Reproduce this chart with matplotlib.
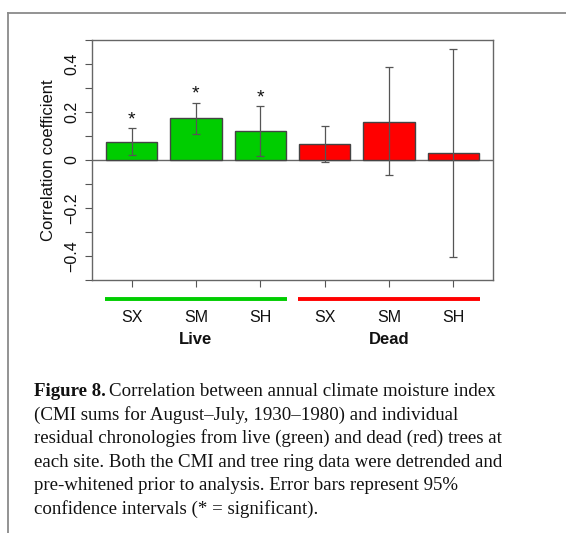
import matplotlib
matplotlib.use("Agg")
import matplotlib.pyplot as plt
from matplotlib.lines import Line2D
import matplotlib.transforms as mtransforms

sites = ["SX", "SM", "SH", "SX", "SM", "SH"]
groups = ["Live", "Dead"]
values = [0.076, 0.175, 0.119, 0.068, 0.160, 0.028]
err_low = [0.019, 0.110, 0.018, -0.007, -0.064, -0.404]
err_high = [0.133, 0.239, 0.223, 0.143, 0.388, 0.463]
significant = [True, True, True, False, False, False]
colors = ["#00CD00", "#00CD00", "#00CD00", "#FF0000", "#FF0000", "#FF0000"]
group_colors = ["#00CD00", "#FF0000"]

W, H = 566, 533
fig = plt.figure(figsize=(W / 100, H / 100), dpi=100)
plt.rcParams['font.family'] = ['Liberation Sans', 'DejaVu Sans']

# outer frame
fig.add_artist(Line2D([8 / W, 8 / W], [0, 1 - 13 / H], transform=fig.transFigure, color="#8a8a8a", lw=1.3))
fig.add_artist(Line2D([8 / W, 1], [1 - 13 / H, 1 - 13 / H], transform=fig.transFigure, color="#8a8a8a", lw=1.3))

ax = fig.add_axes([91.7 / W, 1 - 280 / H, (493.3 - 91.7) / W, 240 / H])
x = list(range(len(values)))
ax.bar(x, values, width=0.8, color=colors, edgecolor="#444444", linewidth=1.0, zorder=2)
yerr = [[v - lo for v, lo in zip(values, err_low)], [hi - v for v, hi in zip(values, err_high)]]
ax.errorbar(x, values, yerr=yerr, fmt="none", ecolor="#555555", elinewidth=0.9, capsize=3, capthick=0.9, zorder=3)
ax.axhline(0, color="#666666", lw=1.0, zorder=1.5)
for xi, hi, s in zip(x, err_high, significant):
    if s:
        ax.text(xi, hi + 0.035, "*", ha="center", va="center", fontsize=14, color="#111111")

ax.set_xlim(-0.62, 5.62)
ax.set_ylim(-0.5, 0.5)
ax.set_yticks([-0.5, -0.4, -0.3, -0.2, -0.1, 0, 0.1, 0.2, 0.3, 0.4, 0.5])
ax.set_yticklabels(["", "\u22120.4", "", "\u22120.2", "", "0", "", "0.2", "", "0.4", ""],
                   rotation=90, va="center", fontsize=11.5)
ax.set_xticks(x)
ax.set_xticklabels(sites, fontsize=11.5)
ax.tick_params(axis="x", length=5, pad=16.5, color="#555555", labelcolor="#111111")
ax.tick_params(axis="y", length=5, pad=4, color="#555555", labelcolor="#111111")
ax.set_ylabel("Correlation coefficient", fontsize=12, labelpad=6, color="#111111")
for sp in ax.spines.values():
    sp.set_color("#666666")
    sp.set_linewidth(1.0)

trans = mtransforms.blended_transform_factory(ax.transData, fig.transFigure)
for gi, (g, c) in enumerate(zip(groups, group_colors)):
    center = 1 + 3 * gi
    ax.add_line(Line2D([center - 1.42, center + 1.42], [1 - 299 / H] * 2, transform=trans,
                       color=c, lw=2.8, clip_on=False, solid_capstyle="butt"))
    ax.text(center, 1 - 339.5 / H, g, transform=trans, ha="center", va="center",
            fontsize=12, fontweight="bold", color="#111111")

# caption
serif = ['Liberation Serif', 'DejaVu Serif']
cap_fs = 13.6
lines = [
    "Correlation between annual climate moisture index",
    "(CMI sums for August\u2013July, 1930\u20131980) and individual",
    "residual chronologies from live (green) and dead (red) trees at",
    "each site. Both the CMI and tree ring data were detrended and",
    "pre-whitened prior to analysis. Error bars represent 95%",
    "confidence intervals (* = significant).",
]
x0 = 33.5 / W
base0 = 396
step = 23.6
fig.canvas.draw()
r = fig.canvas.get_renderer()
t = fig.text(x0, 1 - base0 / H, "Figure 8.", family=serif, fontweight="bold", fontsize=cap_fs,
             va="baseline", ha="left", color="#111111")
bb = t.get_window_extent(renderer=r)
fig.text((bb.x1 + 4) / W, 1 - base0 / H, lines[0], family=serif, fontsize=cap_fs,
         va="baseline", ha="left", color="#111111")
for i, ln in enumerate(lines[1:], start=1):
    fig.text(x0, 1 - (base0 + i * step) / H, ln, family=serif, fontsize=cap_fs,
             va="baseline", ha="left", color="#111111")

fig.savefig("out.png", dpi=100)
